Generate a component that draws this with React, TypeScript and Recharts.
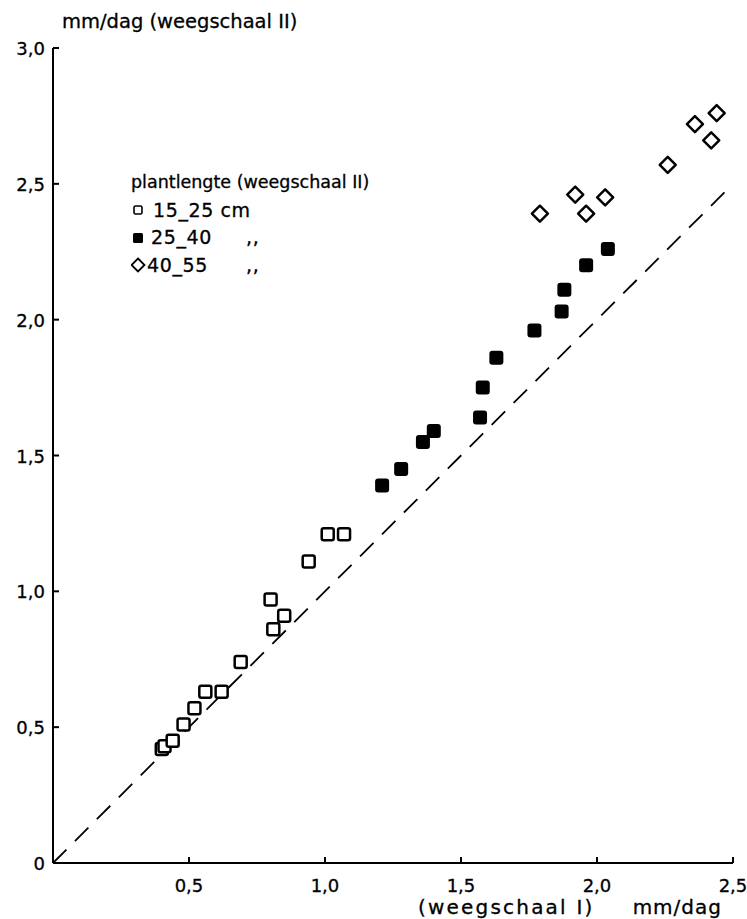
import { ScatterChart, Scatter, XAxis, YAxis, ReferenceLine, Legend, Label } from 'recharts'

// plantlengte 15-25 cm
const smallX = [0.4, 0.41, 0.44, 0.48, 0.52, 0.56, 0.62, 0.69, 0.8, 0.81, 0.85, 0.94, 1.01, 1.07]
const smallY = [0.42, 0.43, 0.45, 0.51, 0.57, 0.63, 0.63, 0.74, 0.97, 0.86, 0.91, 1.11, 1.21, 1.21]

// plantlengte 25-40 cm
const mediumX = [1.21, 1.28, 1.36, 1.4, 1.57, 1.58, 1.63, 1.77, 1.87, 1.88, 1.96, 2.04]
const mediumY = [1.39, 1.45, 1.55, 1.59, 1.64, 1.75, 1.86, 1.96, 2.03, 2.11, 2.2, 2.26]

// plantlengte 40-55 cm
const largeX = [1.79, 1.92, 1.96, 2.03, 2.26, 2.36, 2.42, 2.44]
const largeY = [2.39, 2.46, 2.39, 2.45, 2.57, 2.72, 2.66, 2.76]

const xTicks = [0.5, 1, 1.5, 2, 2.5]
const yTicks = [0, 0.5, 1, 1.5, 2, 2.5, 3]

const legendTitle = 'plantlengte (weegschaal II)'
const legendRanges = ['15_25 cm', '25_40', '40_55']
const legendDitto = ['', ',,', ',,']

const FONT = '"DejaVu Sans", sans-serif'

function toPoints(xs: number[], ys: number[]) {
  return xs.map((x, i) => ({ x, y: ys[i] }))
}

function fmt(v: number): string {
  if (v === 0) return '0'
  return v.toFixed(1).replace('.', ',')
}

const OpenSquare = (p: any) => (
  <rect x={p.cx - 6} y={p.cy - 6} width={12} height={12} rx={2} fill="#fff" stroke="#000" strokeWidth={2.5} />
)

const FilledSquare = (p: any) => (
  <rect x={p.cx - 7} y={p.cy - 7} width={14} height={14} rx={3} fill="#000" />
)

const Diamond = (p: any) => {
  const r = 8
  return (
    <polygon
      points={`${p.cx},${p.cy - r} ${p.cx + r},${p.cy} ${p.cx},${p.cy + r} ${p.cx - r},${p.cy}`}
      fill="#fff"
      stroke="#000"
      strokeWidth={2.5}
      strokeLinejoin="round"
    />
  )
}

const XTick = ({ x, y, payload }: any) => (
  <g>
    <line x1={x} y1={y} x2={x} y2={y - 6} stroke="#000" strokeWidth={2} />
    <text x={x} y={y + 29} textAnchor="middle" fontSize={18} fontFamily={FONT} fill="#000" stroke="#000" strokeWidth={0.3}>
      {fmt(payload.value)}
    </text>
  </g>
)

const YTick = ({ x, y, payload }: any) => (
  <g>
    {payload.value !== 0 && <line x1={x} y1={y} x2={x + 6} y2={y} stroke="#000" strokeWidth={2} />}
    <text x={x - 8} y={y + 7} textAnchor="end" fontSize={18} fontFamily={FONT} fill="#000" stroke="#000" strokeWidth={0.3}>
      {fmt(payload.value)}
    </text>
  </g>
)

const icons = [
  <rect x={3} y={4} width={8} height={8} rx={1.5} fill="#fff" stroke="#000" strokeWidth={1.6} />,
  <rect x={2} y={3} width={10} height={10} rx={1.5} fill="#000" />,
  <polygon points="7,1.5 13.5,8 7,14.5 0.5,8" fill="#fff" stroke="#000" strokeWidth={1.8} />,
]

function PlantLegend() {
  return (
    <div style={{ fontFamily: FONT, fontSize: 17.5, color: '#000', lineHeight: '27.5px', WebkitTextStroke: '0.3px #000' }}>
      <div>{legendTitle}</div>
      {legendRanges.map((range, i) => (
        <div
          key={range}
          style={{ position: 'relative', display: 'flex', alignItems: 'center', fontSize: 19, letterSpacing: 0.6, whiteSpace: 'pre' }}
        >
          <svg width={16} height={16} style={{ marginRight: i === 0 ? 6 : i === 1 ? 4 : 0 }}>
            {icons[i]}
          </svg>
          <span>{range}</span>
          {legendDitto[i] && <span style={{ position: 'absolute', left: 115, top: 0 }}>{legendDitto[i]}</span>}
        </div>
      ))}
    </div>
  )
}

export default function App() {
  return (
    <div style={{ position: 'absolute', left: 0, top: 0, width: 747, height: 919, background: '#fff' }}>
      <ScatterChart width={747} height={919} margin={{ top: 48, right: 14, bottom: 26, left: 13 }}>
        <XAxis
          type="number"
          dataKey="x"
          domain={[0, 2.5]}
          ticks={xTicks}
          height={30}
          tickSize={0}
          tickMargin={0}
          tickLine={false}
          axisLine={{ stroke: '#000', strokeWidth: 2 }}
          tick={<XTick />}
          interval={0}
        >
          <Label
            content={() => (
              <g fontSize={20} fontFamily={FONT} fill="#000" stroke="#000" strokeWidth={0.3}>
                <text x={418} y={914} letterSpacing={2.2}>
                  (weegschaal I)
                </text>
                <text x={722} y={914} textAnchor="end" letterSpacing={1}>
                  mm/dag
                </text>
              </g>
            )}
          />
        </XAxis>
        <YAxis
          type="number"
          dataKey="y"
          domain={[0, 3]}
          ticks={yTicks}
          width={40}
          tickSize={0}
          tickMargin={0}
          tickLine={false}
          axisLine={{ stroke: '#000', strokeWidth: 2 }}
          tick={<YTick />}
          interval={0}
        >
          <Label
            content={() => (
              <text x={62} y={28} fontSize={19.5} fontFamily={FONT} fill="#000" stroke="#000" strokeWidth={0.3}>
                mm/dag (weegschaal II)
              </text>
            )}
          />
        </YAxis>
        <ReferenceLine
          segment={[{ x: 0, y: 0 }, { x: 2.5, y: 2.5 }]}
          stroke="#000"
          strokeWidth={1.8}
          strokeDasharray="19 12"
        />
        <Scatter data={toPoints(smallX, smallY)} shape={OpenSquare} isAnimationActive={false} />
        <Scatter data={toPoints(mediumX, mediumY)} shape={FilledSquare} isAnimationActive={false} />
        <Scatter data={toPoints(largeX, largeY)} shape={Diamond} isAnimationActive={false} />
        <Legend
          layout="vertical"
          align="center"
          verticalAlign="middle"
          content={() => <PlantLegend />}
          wrapperStyle={{ top: 169, left: 131, width: 320 }}
        />
      </ScatterChart>
    </div>
  )
}
